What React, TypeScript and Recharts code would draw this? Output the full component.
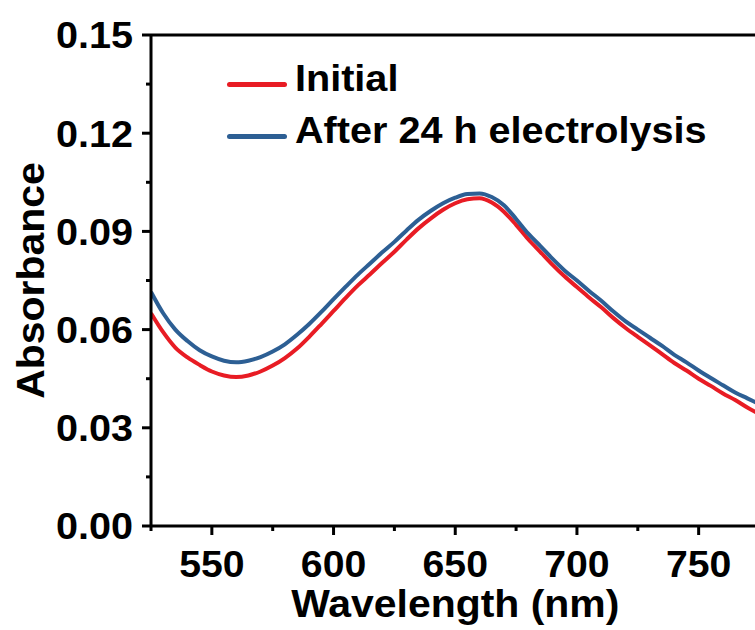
import React from "react";
import { LineChart, Line, XAxis, YAxis, ReferenceLine, Legend } from "recharts";

const wavelengths = [
  525, 530, 535, 540, 545, 550, 555, 560, 565, 570, 575, 580, 585, 590, 595, 600,
  605, 610, 615, 620, 625, 630, 635, 640, 645, 650, 655, 660, 665, 670, 675, 680,
  685, 690, 695, 700, 705, 710, 715, 720, 725, 730, 735, 740, 745, 750, 755, 760,
  765, 770, 775,
];

const initialAbs = [
  0.065, 0.0592, 0.0545, 0.0515, 0.0492, 0.0472, 0.046, 0.0455, 0.046, 0.0472, 0.049,
  0.0513, 0.0542, 0.0578, 0.0617, 0.0657, 0.0697, 0.0735, 0.0769, 0.0804, 0.0838, 0.0875,
  0.091, 0.094, 0.0966, 0.0986, 0.0998, 0.1001, 0.0988, 0.096, 0.092, 0.0876, 0.0837,
  0.0798, 0.0762, 0.073, 0.0698, 0.0668, 0.0635, 0.0605, 0.0578, 0.0552, 0.0525,
  0.0498, 0.0475, 0.045, 0.0428, 0.0405, 0.0385, 0.0362, 0.0342,
];

const afterAbs = [
  0.0715, 0.065, 0.06, 0.0565, 0.0537, 0.0518, 0.0505, 0.05, 0.0505, 0.0516, 0.0533,
  0.0555, 0.0584, 0.0617, 0.0654, 0.0693, 0.0731, 0.0768, 0.0802, 0.0836, 0.0868, 0.0903,
  0.0936, 0.0963, 0.0986, 0.1003, 0.1014, 0.1016, 0.1005, 0.098, 0.0938, 0.0893,
  0.0855, 0.0816, 0.078, 0.075, 0.0718, 0.0688, 0.0655, 0.0625, 0.06, 0.0575, 0.055,
  0.0523, 0.05, 0.0475, 0.0452, 0.043, 0.0408, 0.039, 0.0372,
];

const xTicks = [525, 550, 575, 600, 625, 650, 675, 700, 725, 750, 775];
const xMajor = [550, 600, 650, 700, 750];
const yTicks = [0, 0.015, 0.03, 0.045, 0.06, 0.075, 0.09, 0.105, 0.12, 0.135, 0.15];
const yMajor = [0, 0.03, 0.06, 0.09, 0.12, 0.15];

const seriesNames = ["Initial", "After 24 h electrolysis"];
const seriesColors = ["#E81C24", "#2D5F94"];

const data = wavelengths.map((w, i) => ({
  w,
  initial: initialAbs[i],
  after: afterAbs[i],
}));

const FONT = "'Liberation Sans', Arial, Helvetica, sans-serif";

const isMajor = (arr: number[], v: number) => arr.some((m) => Math.abs(m - v) < 1e-9);

const XTick = (props: any) => {
  const { x, y, payload } = props;
  const major = isMajor(xMajor, payload.value);
  return (
    <g>
      <line x1={x} x2={x} y1={y} y2={y + (major ? 9 : 5)} stroke="#000" strokeWidth={3} />
      {major && (
        <text
          transform={`translate(${x},${y + 51}) scale(1.06,1)`}
          x={0}
          y={0}
          textAnchor="middle"
          fontFamily={FONT}
          fontWeight="bold"
          fontSize={37}
          fill="#000"
        >
          {payload.value}
        </text>
      )}
    </g>
  );
};

const YTick = (props: any) => {
  const { x, y, payload } = props;
  const major = isMajor(yMajor, payload.value);
  return (
    <g>
      <line x1={x} x2={x - (major ? 9 : 5)} y1={y} y2={y} stroke="#000" strokeWidth={3} />
      {major && (
        <text
          transform={`translate(${x - 18},${y}) scale(1.07,1)`}
          x={0}
          y={0}
          dy="0.36em"
          textAnchor="end"
          fontFamily={FONT}
          fontWeight="bold"
          fontSize={37}
          fill="#000"
        >
          {payload.value.toFixed(2)}
        </text>
      )}
    </g>
  );
};

const XLabel = (props: any) => {
  const vb = props.viewBox || {};
  const cx = (vb.x ?? 151) + (vb.width ?? 608) / 2;
  const top = vb.y ?? 526;
  return (
    <text
      transform={`translate(${cx},${top + 91}) scale(1.05,1)`}
      textAnchor="middle"
      fontFamily={FONT}
      fontWeight="bold"
      fontSize={39}
      fill="#000"
    >
      Wavelength (nm)
    </text>
  );
};

const YLabel = (props: any) => {
  const vb = props.viewBox || {};
  const cy = (vb.y ?? 35) + (vb.height ?? 491) / 2;
  return (
    <text
      transform={`translate(44,${cy}) rotate(-90) scale(1.05,1)`}
      textAnchor="middle"
      fontFamily={FONT}
      fontWeight="bold"
      fontSize={39}
      fill="#000"
    >
      Absorbance
    </text>
  );
};

const LegendContent = () => {
  return (
    <div style={{ position: "relative", width: 520, height: 160 }}>
      {seriesNames.map((name, i) => {
        const lineY = 84 + i * 52;
        return (
          <React.Fragment key={name}>
            <div
              style={{
                position: "absolute",
                left: 0,
                top: lineY - 2.5,
                width: 60,
                height: 5,
                borderRadius: 2.5,
                background: seriesColors[i],
              }}
            />
            <span
              style={{
                position: "absolute",
                left: 68,
                top: lineY - 6 - 20.2,
                fontFamily: FONT,
                fontWeight: "bold",
                fontSize: 37,
                color: "#000",
                whiteSpace: "nowrap",
                transform: "scaleX(1.07)",
                transformOrigin: "left center",
                lineHeight: "normal",
              }}
            >
              {name}
            </span>
          </React.Fragment>
        );
      })}
    </div>
  );
};

export default function App() {
  return (
    <div
      style={{
        position: "absolute",
        left: 0,
        top: 0,
        width: 755,
        height: 630,
        overflow: "hidden",
        background: "#fff",
      }}
    >
      <LineChart
        width={760}
        height={630}
        data={data}
        margin={{ top: 35, right: 0.5, left: 0, bottom: 0 }}
      >
        <XAxis
          dataKey="w"
          type="number"
          domain={[525, 775]}
          ticks={xTicks}
          interval={0}
          allowDataOverflow
          height={104}
          tickSize={0}
          tickMargin={0}
          tickLine={false}
          axisLine={{ stroke: "#000", strokeWidth: 3 }}
          tick={<XTick />}
          label={<XLabel />}
        />
        <YAxis
          type="number"
          domain={[0, 0.15]}
          ticks={yTicks}
          interval={0}
          allowDataOverflow
          width={151}
          tickSize={0}
          tickMargin={0}
          tickLine={false}
          axisLine={{ stroke: "#000", strokeWidth: 3 }}
          tick={<YTick />}
          label={<YLabel />}
        />
        <ReferenceLine y={0.15} stroke="#000" strokeWidth={3} ifOverflow="visible" />
        <ReferenceLine x={775} stroke="#000" strokeWidth={3} ifOverflow="visible" />
        <Line
          dataKey="initial"
          name={seriesNames[0]}
          stroke={seriesColors[0]}
          strokeWidth={4}
          dot={false}
          type="monotone"
          isAnimationActive={false}
        />
        <Line
          dataKey="after"
          name={seriesNames[1]}
          stroke={seriesColors[1]}
          strokeWidth={4}
          dot={false}
          type="monotone"
          isAnimationActive={false}
        />
        <Legend
          layout="vertical"
          align="center"
          verticalAlign="middle"
          content={<LegendContent />}
          wrapperStyle={{ position: "absolute", left: 227, top: 0, width: 520, height: 160 }}
        />
      </LineChart>
    </div>
  );
}
